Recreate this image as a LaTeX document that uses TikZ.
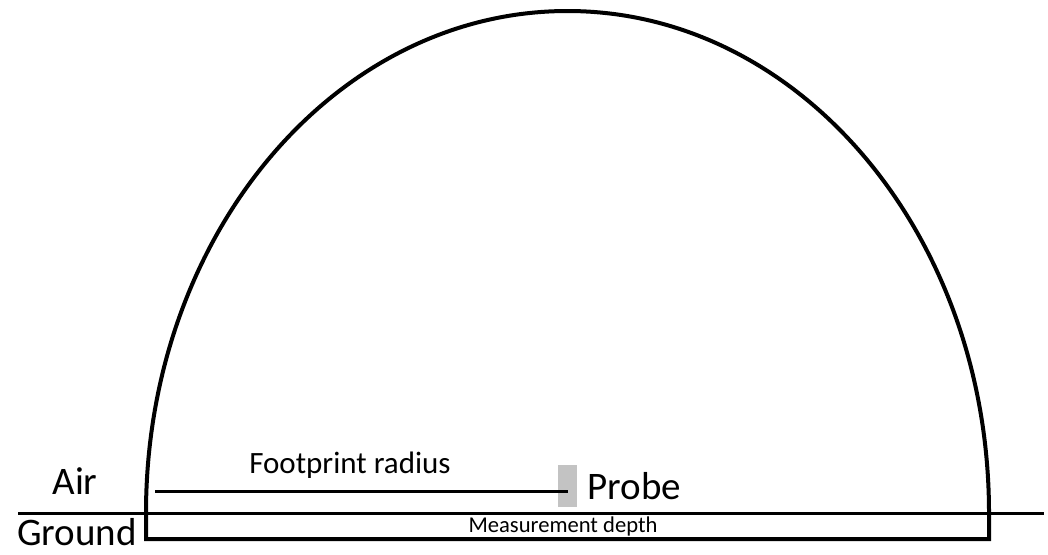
\documentclass[tikz,border=0pt]{standalone}
\usepackage{fontspec}
\setmainfont{Carlito}
\usepackage{tikz}
\usetikzlibrary{positioning}
\definecolor{probegray}{HTML}{C3C3C3}

\begin{document}
\begin{tikzpicture}[
  x=0.5pt, y=0.5pt,
  big/.style={inner sep=0pt, font=\fontsize{19.5}{21}\selectfont},
  mid/.style={inner sep=0pt, font=\fontsize{15.5}{17}\selectfont},
  small/.style={inner sep=0pt, font=\fontsize{11.3}{13}\selectfont},
  wall/.style={line width=2pt},
  thin/.style={line width=1.5pt}]
  \useasboundingbox (0,0) rectangle (1048,554);
  % ground surface and sensed volume
  \draw[thin] (18,41) -- (1044,41);
  \draw[wall, line join=miter] (146,41) arc[start angle=180, end angle=0, x radius=421.5, y radius=502]
    -- (989,15) -- (146,15) -- cycle;
  % probe and footprint
  \node[fill=probegray, inner sep=0pt, minimum width=9.5pt, minimum height=21pt] (probe) at (567.5,68) {};
  \coordinate (rim) at (155,63);
  \draw[thin] (rim) -- (rim -| probe.center);
  \node[big, right=5pt of probe] (probelabel) {Probe};
  \node[mid, anchor=base] (fplabel) at (350,81) {Footprint radius};
  \node[small, anchor=base] (depth) at (563,22) {Measurement depth};
  \node[big, anchor=base] (air) at (75,60) {Air};
  \node[big, anchor=base] (ground) at (77,9) {Ground};
\end{tikzpicture}
\end{document}
